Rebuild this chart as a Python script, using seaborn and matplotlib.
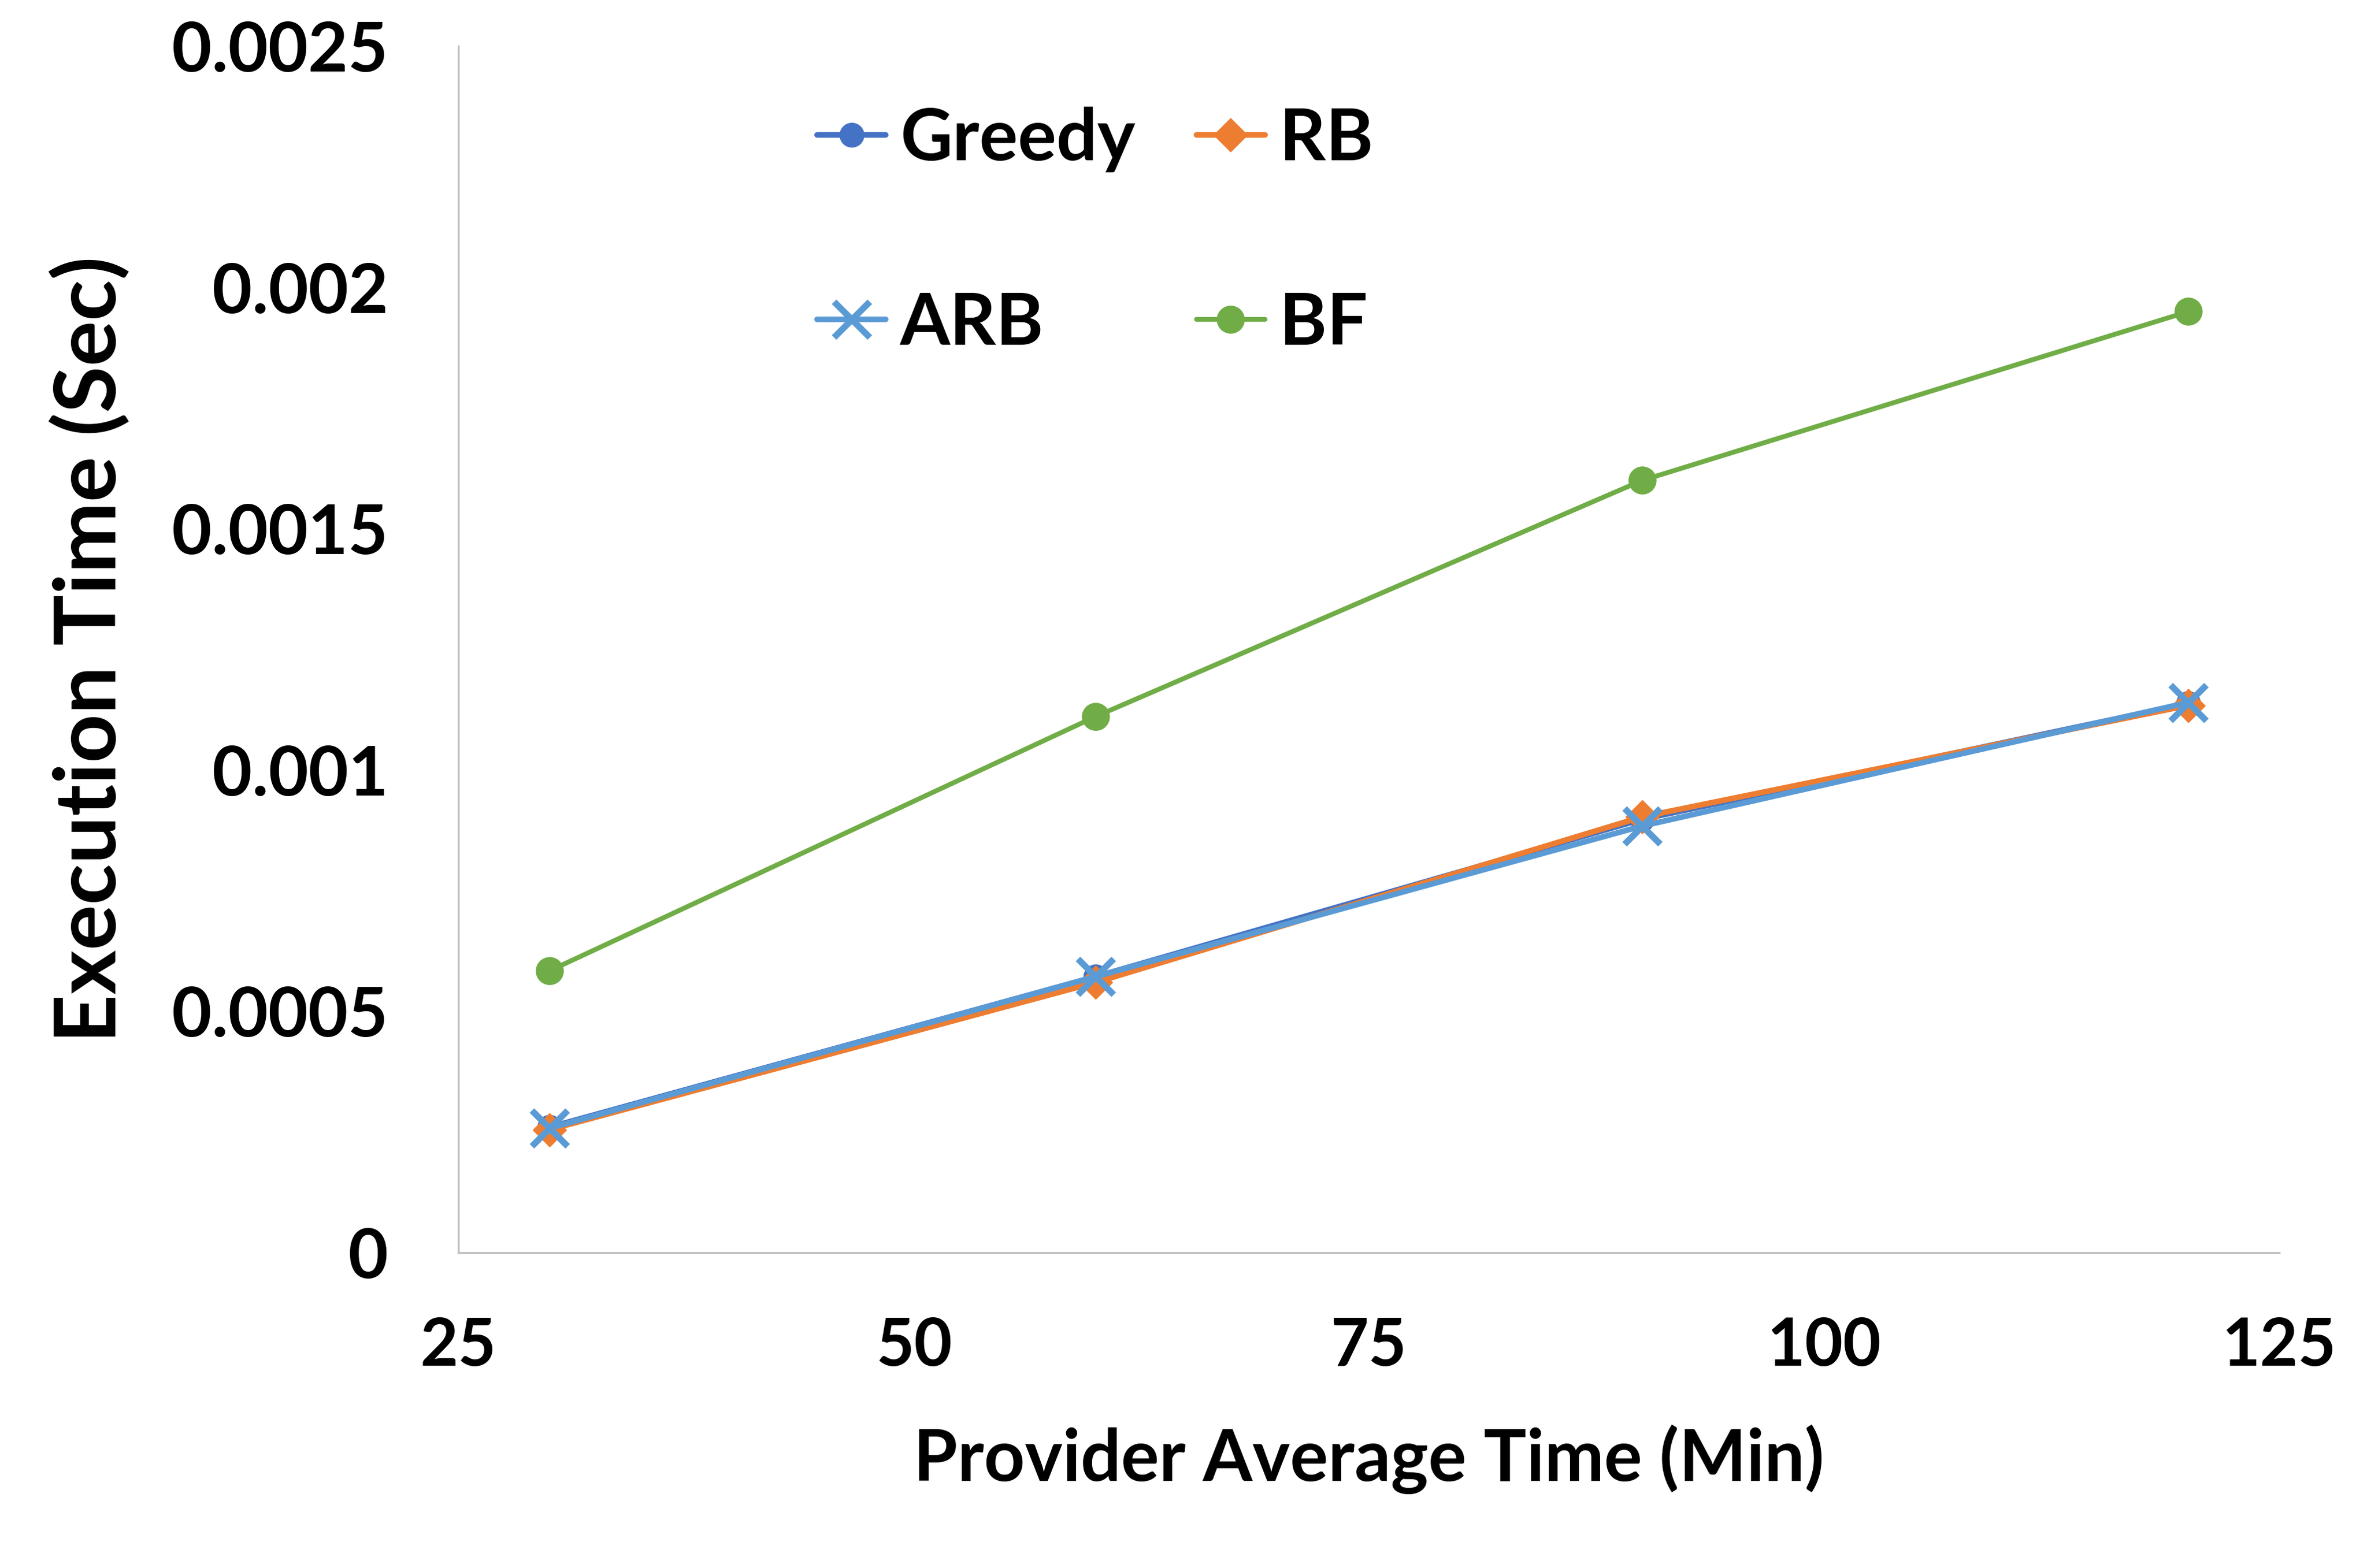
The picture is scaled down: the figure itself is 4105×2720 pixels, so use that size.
import matplotlib

matplotlib.use("Agg")

import matplotlib.pyplot as plt
import pandas as pd
import seaborn as sns

PROVIDER_TIME = [30, 60, 90, 120]
GREEDY = [0.000260, 0.000572, 0.000898, 0.001138]
RB = [0.000255, 0.000560, 0.000903, 0.001134]
ARB = [0.000258, 0.000572, 0.000884, 0.001140]
BF = [0.000584, 0.001111, 0.001600, 0.001950]

SERIES_NAMES = ["Greedy", "RB", "ARB", "BF"]
X_TICKS = [25, 50, 75, 100, 125]
Y_TICKS = [0, 0.0005, 0.001, 0.0015, 0.002, 0.0025]
Y_TICK_LABELS = ["0", "0.0005", "0.001", "0.0015", "0.002", "0.0025"]

COLORS = {"Greedy": "#4472C4", "RB": "#ED7D31", "ARB": "#5B9BD5", "BF": "#70AD47"}
# seaborn won't mix filled and line markers, so ARB gets its "x" after plotting
MARKERS = {"Greedy": "o", "RB": "D", "ARB": "X", "BF": "o"}


def build_frame() -> pd.DataFrame:
    values = {"Greedy": GREEDY, "RB": RB, "ARB": ARB, "BF": BF}
    rows = []
    for name in SERIES_NAMES:
        for x, y in zip(PROVIDER_TIME, values[name]):
            rows.append({"time": x, "exec": y, "algo": name})
    return pd.DataFrame(rows)


def main() -> None:
    sns.set_theme(style="white")
    plt.rcParams["font.family"] = ["Lato", "DejaVu Sans"]
    plt.rcParams["font.weight"] = "bold"
    plt.rcParams["text.color"] = "black"
    plt.rcParams["axes.labelcolor"] = "black"

    df = build_frame()

    fig, ax = plt.subplots(figsize=(20.525, 13.6), dpi=200)
    fig.subplots_adjust(left=0.1937, right=0.963, bottom=0.2011, top=0.9706)

    sns.lineplot(
        data=df,
        x="time",
        y="exec",
        hue="algo",
        style="algo",
        hue_order=SERIES_NAMES,
        style_order=SERIES_NAMES,
        palette=COLORS,
        markers=MARKERS,
        dashes=False,
        legend=False,
        ax=ax,
    )

    lines = ax.get_lines()
    for line, name in zip(lines, SERIES_NAMES):
        color = COLORS[name]
        line.set_color(color)
        line.set_markerfacecolor(color)
        line.set_markeredgecolor(color)
        if name == "ARB":
            line.set_marker("x")
            line.set_markersize(22)
            line.set_markeredgewidth(4)
            line.set_linewidth(3.5)
        elif name == "BF":
            line.set_markersize(17)
            line.set_markeredgewidth(0.5)
            line.set_linewidth(3.0)
        else:
            line.set_markersize(15)
            line.set_markeredgewidth(0.5)
            line.set_linewidth(3.5)

    ax.set_xlim(25, 125)
    ax.set_ylim(0, 0.0025)
    ax.set_xticks(X_TICKS)
    ax.set_xticklabels([str(t) for t in X_TICKS])
    ax.set_yticks(Y_TICKS)
    ax.set_yticklabels(Y_TICK_LABELS)
    ax.tick_params(axis="both", length=0, colors="black")
    ax.tick_params(axis="y", pad=44, labelsize=43)
    ax.tick_params(axis="x", pad=40, labelsize=41)
    for lab in ax.get_xticklabels() + ax.get_yticklabels():
        lab.set_fontweight("bold")

    for side in ["top", "right"]:
        ax.spines[side].set_visible(False)
    for side in ["left", "bottom"]:
        ax.spines[side].set_color("#BFBFBF")
        ax.spines[side].set_linewidth(1.2)

    ax.set_xlabel("Provider Average Time (Min)", fontsize=44.5, fontweight="bold", labelpad=30)
    ax.set_ylabel("Execution Time (Sec)", fontsize=53, fontweight="bold", labelpad=26)

    by_name = dict(zip(SERIES_NAMES, lines))
    order = ["Greedy", "ARB", "RB", "BF"]
    ax.legend(
        [by_name[n] for n in order],
        order,
        ncol=2,
        frameon=False,
        loc="upper left",
        bbox_to_anchor=(0.33, 0.955),
        bbox_transform=fig.transFigure,
        borderpad=0,
        handlelength=0.95,
        handletextpad=0.2,
        columnspacing=0.85,
        labelspacing=1.65,
        numpoints=1,
        prop={"weight": "bold", "size": 45},
    )

    fig.savefig("out.png", dpi=200, facecolor="white")


if __name__ == "__main__":
    main()
